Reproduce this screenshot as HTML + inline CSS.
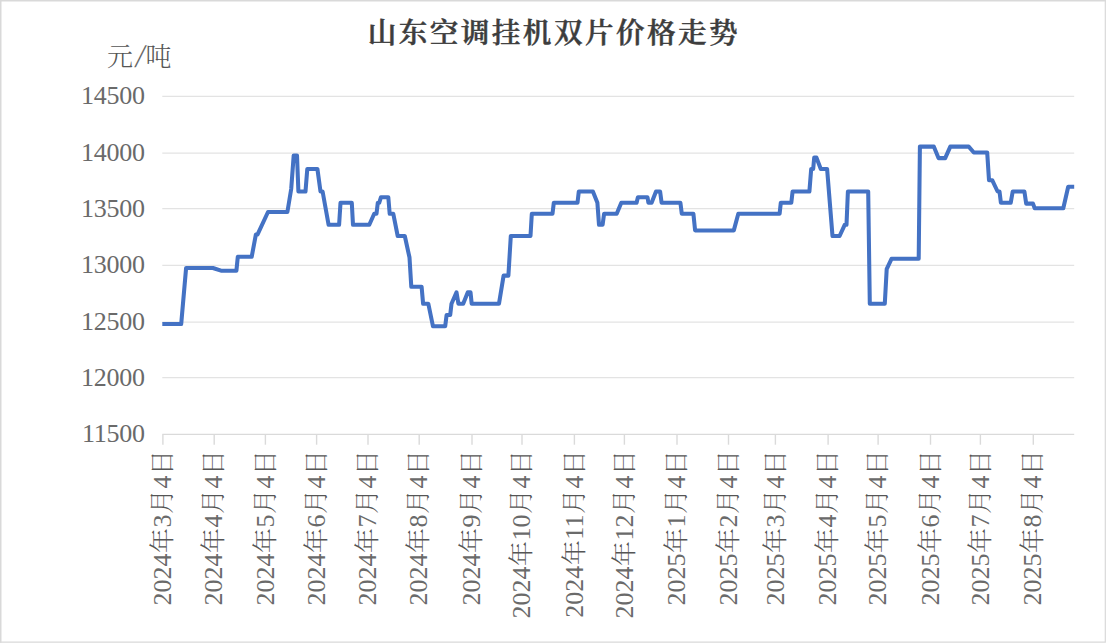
<!DOCTYPE html>
<html lang="zh-CN">
<head>
<meta charset="utf-8">
<title>山东空调挂机双片价格走势</title>
<style>
html,body{margin:0;padding:0;background:#fff;}
body{width:1106px;height:644px;overflow:hidden;}
svg{display:block;}
.t{font-family:"Liberation Serif","Noto Serif CJK SC",serif;}
.title{font-size:28.6px;font-weight:600;fill:#3d3d3d;stroke:#3d3d3d;stroke-width:0.45px;letter-spacing:2.45px;}
.lab{font-size:26px;fill:#6a6a6a;}
.xl{font-size:26px;fill:#6a6a6a;}
.cj{font-weight:300;fill:#555;}
.xl .cj{font-size:24.8px;letter-spacing:0.6px;}
</style>
</head>
<body>
<svg width="1106" height="644" viewBox="0 0 1106 644">
<rect x="0" y="0" width="1106" height="644" fill="#ffffff"/>
<path d="M0.75 642.7V0.75H1106" fill="none" stroke="#d9d9d9" stroke-width="1.5"/>
<path d="M1105.3 0V642.1H0" fill="none" stroke="#d9d9d9" stroke-width="1.2"/>

<g stroke="#e3e3e3" stroke-width="1.35" fill="none">
<line x1="162.3" y1="96.3" x2="1074.2" y2="96.3"/>
<line x1="162.3" y1="153.05" x2="1074.2" y2="153.05"/>
<line x1="162.3" y1="208.55" x2="1074.2" y2="208.55"/>
<line x1="162.3" y1="265.35" x2="1074.2" y2="265.35"/>
<line x1="162.3" y1="322.15" x2="1074.2" y2="322.15"/>
<line x1="162.3" y1="377.6" x2="1074.2" y2="377.6"/>
</g>
<g stroke="#dadada" stroke-width="1.4" fill="none">
<line x1="162.3" y1="434.4" x2="1074.2" y2="434.4"/>
<line x1="162.9" y1="434.4" x2="162.9" y2="444.7"/>
<line x1="214.2" y1="434.4" x2="214.2" y2="444.7"/>
<line x1="265.4" y1="434.4" x2="265.4" y2="444.7"/>
<line x1="316.6" y1="434.4" x2="316.6" y2="444.7"/>
<line x1="368.0" y1="434.4" x2="368.0" y2="444.7"/>
<line x1="419.2" y1="434.4" x2="419.2" y2="444.7"/>
<line x1="472.0" y1="434.4" x2="472.0" y2="444.7"/>
<line x1="522.0" y1="434.4" x2="522.0" y2="444.7"/>
<line x1="574.4" y1="434.4" x2="574.4" y2="444.7"/>
<line x1="624.4" y1="434.4" x2="624.4" y2="444.7"/>
<line x1="677.0" y1="434.4" x2="677.0" y2="444.7"/>
<line x1="728.5" y1="434.4" x2="728.5" y2="444.7"/>
<line x1="775.4" y1="434.4" x2="775.4" y2="444.7"/>
<line x1="828.1" y1="434.4" x2="828.1" y2="444.7"/>
<line x1="878.1" y1="434.4" x2="878.1" y2="444.7"/>
<line x1="930.5" y1="434.4" x2="930.5" y2="444.7"/>
<line x1="980.4" y1="434.4" x2="980.4" y2="444.7"/>
<line x1="1033.3" y1="434.4" x2="1033.3" y2="444.7"/>
</g>
<text class="t title" x="553.9" y="42.9" text-anchor="middle">山东空调挂机双片价格走势</text>
<text class="t lab" x="107" y="65.5"><tspan class="cj">元</tspan></text>
<text class="t lab" transform="translate(134.2,66.6) skewX(-9)" style="font-size:33px">/</text>
<text class="t lab" x="145.6" y="65.5"><tspan class="cj">吨</tspan></text>
<text class="t lab" x="144.6" y="104.2" text-anchor="end" letter-spacing="-0.3">14500</text>
<text class="t lab" x="144.6" y="161.0" text-anchor="end" letter-spacing="-0.3">14000</text>
<text class="t lab" x="144.6" y="216.5" text-anchor="end" letter-spacing="-0.3">13500</text>
<text class="t lab" x="144.6" y="273.2" text-anchor="end" letter-spacing="-0.3">13000</text>
<text class="t lab" x="144.6" y="330.0" text-anchor="end" letter-spacing="-0.3">12500</text>
<text class="t lab" x="144.6" y="385.5" text-anchor="end" letter-spacing="-0.3">12000</text>
<text class="t lab" x="144.6" y="442.3" text-anchor="end" letter-spacing="-0.3">11500</text>
<text class="t xl" transform="translate(171.0,449.6) rotate(-90)" text-anchor="end">2024<tspan class="cj" dx="0.6">年</tspan>3<tspan class="cj" dx="0.6">月</tspan>4<tspan class="cj" dx="0.6">日</tspan></text>
<text class="t xl" transform="translate(222.3,449.6) rotate(-90)" text-anchor="end">2024<tspan class="cj" dx="0.6">年</tspan>4<tspan class="cj" dx="0.6">月</tspan>4<tspan class="cj" dx="0.6">日</tspan></text>
<text class="t xl" transform="translate(273.5,449.6) rotate(-90)" text-anchor="end">2024<tspan class="cj" dx="0.6">年</tspan>5<tspan class="cj" dx="0.6">月</tspan>4<tspan class="cj" dx="0.6">日</tspan></text>
<text class="t xl" transform="translate(324.7,449.6) rotate(-90)" text-anchor="end">2024<tspan class="cj" dx="0.6">年</tspan>6<tspan class="cj" dx="0.6">月</tspan>4<tspan class="cj" dx="0.6">日</tspan></text>
<text class="t xl" transform="translate(376.1,449.6) rotate(-90)" text-anchor="end">2024<tspan class="cj" dx="0.6">年</tspan>7<tspan class="cj" dx="0.6">月</tspan>4<tspan class="cj" dx="0.6">日</tspan></text>
<text class="t xl" transform="translate(427.3,449.6) rotate(-90)" text-anchor="end">2024<tspan class="cj" dx="0.6">年</tspan>8<tspan class="cj" dx="0.6">月</tspan>4<tspan class="cj" dx="0.6">日</tspan></text>
<text class="t xl" transform="translate(480.1,449.6) rotate(-90)" text-anchor="end">2024<tspan class="cj" dx="0.6">年</tspan>9<tspan class="cj" dx="0.6">月</tspan>4<tspan class="cj" dx="0.6">日</tspan></text>
<text class="t xl" transform="translate(530.1,449.6) rotate(-90)" text-anchor="end">2024<tspan class="cj" dx="0.6">年</tspan>10<tspan class="cj" dx="0.6">月</tspan>4<tspan class="cj" dx="0.6">日</tspan></text>
<text class="t xl" transform="translate(582.5,449.6) rotate(-90)" text-anchor="end">2024<tspan class="cj" dx="0.6">年</tspan>11<tspan class="cj" dx="0.6">月</tspan>4<tspan class="cj" dx="0.6">日</tspan></text>
<text class="t xl" transform="translate(632.5,449.6) rotate(-90)" text-anchor="end">2024<tspan class="cj" dx="0.6">年</tspan>12<tspan class="cj" dx="0.6">月</tspan>4<tspan class="cj" dx="0.6">日</tspan></text>
<text class="t xl" transform="translate(685.1,449.6) rotate(-90)" text-anchor="end">2025<tspan class="cj" dx="0.6">年</tspan>1<tspan class="cj" dx="0.6">月</tspan>4<tspan class="cj" dx="0.6">日</tspan></text>
<text class="t xl" transform="translate(736.6,449.6) rotate(-90)" text-anchor="end">2025<tspan class="cj" dx="0.6">年</tspan>2<tspan class="cj" dx="0.6">月</tspan>4<tspan class="cj" dx="0.6">日</tspan></text>
<text class="t xl" transform="translate(783.5,449.6) rotate(-90)" text-anchor="end">2025<tspan class="cj" dx="0.6">年</tspan>3<tspan class="cj" dx="0.6">月</tspan>4<tspan class="cj" dx="0.6">日</tspan></text>
<text class="t xl" transform="translate(836.2,449.6) rotate(-90)" text-anchor="end">2025<tspan class="cj" dx="0.6">年</tspan>4<tspan class="cj" dx="0.6">月</tspan>4<tspan class="cj" dx="0.6">日</tspan></text>
<text class="t xl" transform="translate(886.2,449.6) rotate(-90)" text-anchor="end">2025<tspan class="cj" dx="0.6">年</tspan>5<tspan class="cj" dx="0.6">月</tspan>4<tspan class="cj" dx="0.6">日</tspan></text>
<text class="t xl" transform="translate(938.6,449.6) rotate(-90)" text-anchor="end">2025<tspan class="cj" dx="0.6">年</tspan>6<tspan class="cj" dx="0.6">月</tspan>4<tspan class="cj" dx="0.6">日</tspan></text>
<text class="t xl" transform="translate(988.5,449.6) rotate(-90)" text-anchor="end">2025<tspan class="cj" dx="0.6">年</tspan>7<tspan class="cj" dx="0.6">月</tspan>4<tspan class="cj" dx="0.6">日</tspan></text>
<text class="t xl" transform="translate(1041.4,449.6) rotate(-90)" text-anchor="end">2025<tspan class="cj" dx="0.6">年</tspan>8<tspan class="cj" dx="0.6">月</tspan>4<tspan class="cj" dx="0.6">日</tspan></text>
<polyline points="162.3,324.0 181.2,324.0 186.1,268.0 212.9,268.0 221.0,270.7 236.4,270.7 237.8,256.8 251.7,256.8 255.9,234.4 257.6,234.4 268.0,212.0 287.4,212.0 291.2,189.0 293.7,155.4 297.0,155.4 298.4,191.5 305.5,191.5 307.3,168.9 317.4,168.9 320.5,191.5 322.6,191.5 328.6,224.8 339.1,224.8 340.5,202.8 351.8,202.8 353.0,224.8 369.3,224.8 374.2,213.8 376.5,213.8 377.8,202.8 379.2,202.8 381.0,197.2 388.3,197.2 389.7,213.8 393.3,213.8 397.7,236.0 404.8,236.0 409.5,257.5 411.3,286.8 421.6,286.8 423.1,303.7 428.3,303.7 433.0,326.3 445.2,326.3 446.6,314.9 450.2,314.9 451.5,303.7 456.5,292.3 458.4,303.7 463.2,303.7 467.8,292.3 470.5,292.3 471.7,303.7 499.0,303.7 503.6,275.6 508.4,275.6 510.8,236.0 530.5,236.0 531.8,213.8 552.5,213.8 553.8,202.8 577.5,202.8 578.8,191.5 592.9,191.5 597.4,202.8 599.0,224.8 602.6,224.8 604.1,213.8 616.7,213.8 621.3,202.8 636.6,202.8 637.9,197.2 647.5,197.2 648.4,202.8 651.6,202.8 656.0,191.5 660.1,191.5 661.6,202.8 680.4,202.8 681.8,213.8 693.4,213.8 695.1,230.4 733.8,230.4 738.3,213.8 779.6,213.8 780.8,202.8 791.3,202.8 792.6,191.5 809.4,191.5 811.2,168.9 813.2,168.9 814.2,157.6 816.4,157.6 820.8,168.9 827.1,168.9 832.5,236.0 839.6,236.0 844.7,224.8 846.5,224.8 847.9,191.5 868.2,191.5 869.8,303.7 884.8,303.7 886.7,269.2 891.5,258.8 918.7,258.8 919.9,146.6 933.8,146.6 938.5,158.1 945.2,158.1 950.3,146.6 968.7,146.6 973.8,152.5 987.2,152.5 989.0,180.2 992.2,180.2 997.6,191.5 999.5,191.5 1000.9,202.8 1010.7,202.8 1012.7,191.5 1024.4,191.5 1026.2,203.6 1032.9,203.6 1034.7,208.2 1063.3,208.2 1068.2,186.8 1074.2,186.8" fill="none" stroke="#4472c4" stroke-width="4.05" stroke-linejoin="round" stroke-linecap="butt"/>
</svg>
</body>
</html>
